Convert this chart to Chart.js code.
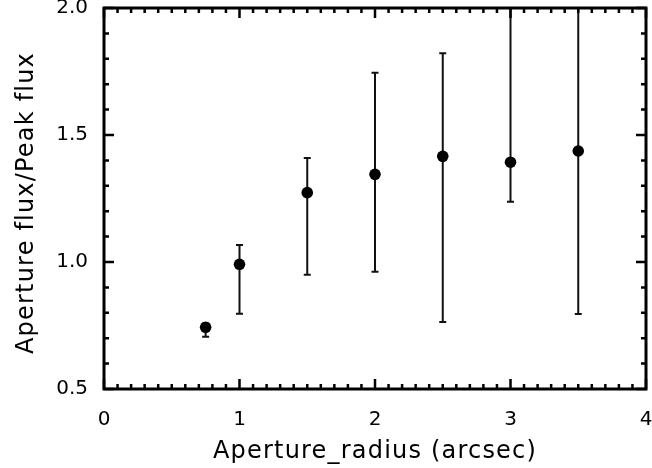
<!DOCTYPE html>
<html><head><meta charset="utf-8">
<script src="https://cdn.jsdelivr.net/npm/chart.js@4"></script>
<style>html,body{margin:0;padding:0;background:#fff}#wrap{width:652px;height:468px}</style>
</head><body><div id="wrap"><canvas id="c" width="652" height="468"></canvas></div>
<script>
const radius = [0.75, 1.0, 1.5, 2.0, 2.5, 3.0, 3.5];
const ratio = [0.743, 0.991, 1.273, 1.345, 1.416, 1.393, 1.437];
const errHigh = [0.758, 1.067, 1.409, 1.745, 1.822, 2.2, 2.2];
const errLow = [0.706, 0.796, 0.950, 0.962, 0.764, 1.237, 0.795];
const xTickLabels = ['0', '1', '2', '3', '4'];
const yTickLabels = ['0.5', '1.0', '1.5', '2.0'];
const xTitle = 'Aperture_radius (arcsec)';
const yTitle = 'Aperture flux/Peak flux';

const FONT = '"DejaVu Sans", "Liberation Sans", sans-serif';
Chart.defaults.font.family = FONT;
Chart.defaults.font.size = 20;
Chart.defaults.color = '#000';

const points = radius.map((r, i) => ({x: r, y: ratio[i]}));

const plotDecor = {
  id: 'plotDecor',
  beforeDatasetsDraw(chart) {
    const {ctx, chartArea: a, scales: {x, y}} = chart;
    ctx.save();
    ctx.beginPath();
    ctx.rect(a.left, a.top, a.right - a.left, a.bottom - a.top);
    ctx.clip();
    ctx.strokeStyle = '#111';
    ctx.lineWidth = 2;
    ctx.lineCap = 'butt';
    for (let i = 0; i < radius.length; i++) {
      const px = x.getPixelForValue(radius[i]);
      const yh = y.getPixelForValue(errHigh[i]);
      const yl = y.getPixelForValue(errLow[i]);
      ctx.beginPath();
      ctx.moveTo(px, yh); ctx.lineTo(px, yl);
      ctx.moveTo(px - 3.5, yh); ctx.lineTo(px + 3.5, yh);
      ctx.moveTo(px - 3.5, yl); ctx.lineTo(px + 3.5, yl);
      ctx.stroke();
    }
    ctx.restore();
  },
  afterDraw(chart) {
    const {ctx, chartArea: a, scales: {x, y}} = chart;
    ctx.save();
    ctx.strokeStyle = '#000';
    ctx.lineWidth = 2.5;
    ctx.lineCap = 'butt';
    ctx.beginPath();
    for (let k = 0; k <= 40; k++) {
      const px = x.getPixelForValue(k / 10);
      const len = (k % 10 === 0) ? 10 : 5;
      ctx.moveTo(px, a.bottom); ctx.lineTo(px, a.bottom - len);
      ctx.moveTo(px, a.top); ctx.lineTo(px, a.top + len);
    }
    for (let k = 5; k <= 20; k++) {
      const py = y.getPixelForValue(k / 10);
      const len = (k % 5 === 0) ? 10 : 5;
      ctx.moveTo(a.left, py); ctx.lineTo(a.left + len, py);
      ctx.moveTo(a.right, py); ctx.lineTo(a.right - len, py);
    }
    ctx.stroke();
    ctx.lineWidth = 3;
    ctx.lineJoin = 'miter';
    ctx.strokeRect(a.left, a.top, a.right - a.left, a.bottom - a.top);
    ctx.fillStyle = '#000';
    ctx.font = '24px ' + FONT;
    try { ctx.letterSpacing = '1.2px'; } catch (e) {}
    ctx.textAlign = 'center';
    ctx.textBaseline = 'alphabetic';
    ctx.fillText(xTitle, (a.left + a.right) / 2, 458);
    ctx.translate(33, 203);
    ctx.rotate(-Math.PI / 2);
    ctx.fillText(yTitle, 0, 0);
    ctx.restore();
  }
};

new Chart(document.getElementById('c'), {
  type: 'scatter',
  data: {
    datasets: [{
      data: points,
      backgroundColor: '#000',
      borderColor: '#000',
      pointRadius: 5.8,
      pointHoverRadius: 5.8,
      pointBorderWidth: 0,
      clip: false
    }]
  },
  options: {
    responsive: false,
    devicePixelRatio: 1,
    animation: false,
    events: [],
    layout: {padding: {top: 8, right: 6, left: 0, bottom: 0}},
    plugins: {legend: {display: false}, tooltip: {enabled: false}},
    scales: {
      x: {
        type: 'linear', min: 0, max: 4,
        grid: {display: false, drawTicks: false},
        border: {display: false},
        ticks: {
          stepSize: 1, padding: 19, color: '#000', maxRotation: 0,
          font: {family: FONT, size: 20},
          callback: (v, i) => xTickLabels[i]
        },
        afterFit(s) { s.height = 79; s.paddingLeft = 0; s.paddingRight = 0; }
      },
      y: {
        type: 'linear', min: 0.5, max: 2.0,
        grid: {display: false, drawTicks: false},
        border: {display: false},
        ticks: {
          stepSize: 0.5, padding: 16, color: '#000',
          font: {family: FONT, size: 20},
          callback: (v, i) => yTickLabels[i]
        },
        afterFit(s) { s.width = 104; s.paddingTop = 0; s.paddingBottom = 0; }
      }
    }
  },
  plugins: [plotDecor]
});
</script>
</body></html>
